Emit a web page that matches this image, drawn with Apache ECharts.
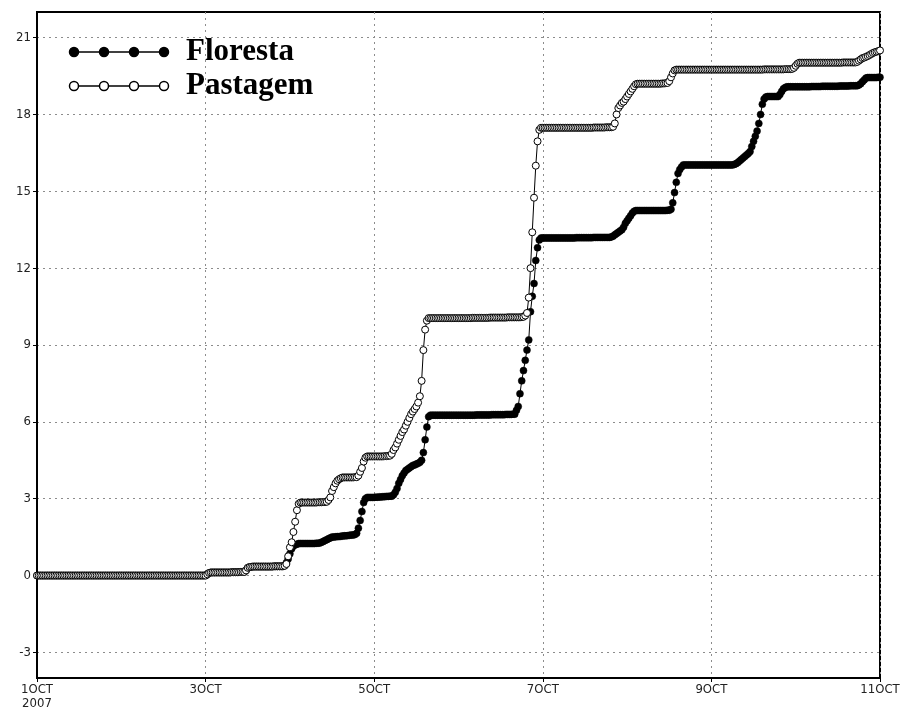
<!DOCTYPE html>
<html><head><meta charset="utf-8">
<script src="https://cdn.jsdelivr.net/npm/echarts@6/dist/echarts.min.js"></script>
<style>html,body{margin:0;padding:0;background:#fff}#c{width:908px;height:715px}</style>
</head><body><div id="c"></div>
<script>
const seriesNames = ['Floresta', 'Pastagem'];
const stepHours = 0.5; // half-hourly samples from 1 OCT 2007 00:00
const tickLabels = ['1OCT\n2007', '3OCT', '5OCT', '7OCT', '9OCT', '11OCT'];
const yTicks = [-3, 0, 3, 6, 9, 12, 15, 18, 21];

const floresta = [
// i0-96
0,0,0,0,0,0,0,0,0,0, 0,0,0,0,0,0,0,0,0,0, 0,0,0,0,0,0,0,0,0,0, 0,0,0,0,0,0,0,0,0,0,
0,0,0,0,0,0,0,0,0,0, 0,0,0,0,0,0,0,0,0,0, 0,0,0,0,0,0,0,0,0,0, 0,0,0,0,0,0,0,0,0,0,
0,0,0,0,0,0,0,0,0,0, 0,0,0,0,0,0,0,
// i97-118
0.05,0.1, 0.12,0.12,0.12,0.12,0.12,0.12,0.12,0.12,0.12,0.12, 0.12,0.12,0.13,0.13,0.13,0.13,0.13,0.14,0.14,0.14,
// i119-140
0.2,0.3, 0.33,0.34,0.35,0.35,0.35,0.35,0.35,0.35,0.35,0.35, 0.35,0.35,0.35,0.35,0.36,0.36,0.36,0.36,0.36,0.36,
// i141-148
0.4,0.5,0.65,0.85,1.05,1.15,1.2,1.22,
// i149-160
1.25,1.25,1.25,1.25,1.25,1.25,1.25,1.25,1.25,1.25, 1.26,1.26,
// i161-168
1.27,1.3,1.33,1.37,1.4,1.44,1.47,1.5,
// i169-180
1.5,1.51,1.52,1.52,1.53,1.54,1.55,1.55,1.56,1.57, 1.58,1.58,
// i181-187
1.6,1.65,1.85,2.15,2.5,2.85,3.0,
// i188-202
3.05,3.05,3.05,3.05,3.05,3.06,3.06,3.07,3.07,3.08, 3.08,3.09,3.09,3.1,3.1,
// i203-223
3.15,3.25,3.4,3.6,3.75,3.9,4.0,4.1,4.15,4.2, 4.25,4.3,4.32,4.35,4.38,4.42,4.5,4.8,5.3,5.8, 6.2,
// i224-272
6.26,6.26,6.26,6.26,6.26,6.26,6.26,6.26,6.26,6.26, 6.26,6.26,6.26,6.26,6.26,6.26,6.26,6.26,6.26,6.26,
6.26,6.26,6.26,6.26,6.26,6.26,6.27,6.27,6.27,6.27, 6.27,6.27,6.27,6.27,6.27,6.28,6.28,6.28,6.28,6.28,
6.28,6.28,6.28,6.29,6.29,6.29,6.29,6.3,6.3,
// i273-286
6.45,6.6,7.1,7.6,8.0,8.4,8.8,9.2,10.3,10.9, 11.4,12.3,12.8,13.1,
// i287-326
13.18,13.18,13.18,13.18,13.18,13.18,13.18,13.18,13.18,13.18, 13.18,13.18,13.18,13.18,13.18,13.18,13.18,13.18,13.18,13.18,
13.19,13.19,13.19,13.19,13.19,13.19,13.19,13.19,13.19,13.19, 13.2,13.2,13.2,13.2,13.2,13.2,13.2,13.2,13.2,13.2,
// i327-340
13.22,13.25,13.3,13.35,13.4,13.45,13.5,13.6,13.75,13.85, 13.95,14.05,14.15,14.22,
// i341-360
14.25,14.25,14.25,14.25,14.25,14.25,14.25,14.25,14.25,14.25, 14.25,14.25,14.25,14.25,14.25,14.25,14.25,14.25,14.26,14.26,
// i361-367
14.3,14.55,14.95,15.35,15.7,15.85,15.95,
// i368-396
16.03,16.03,16.03,16.03,16.03,16.03,16.03,16.03,16.03,16.03, 16.03,16.03,16.03,16.03,16.03,16.03,16.03,16.03,16.03,16.03,
16.03,16.03,16.03,16.03,16.03,16.03,16.03,16.03,16.03,
// i397-415
16.05,16.08,16.12,16.18,16.24,16.3,16.36,16.42,16.48,16.55, 16.75,16.95,17.15,17.35,17.65,18.0,18.4,18.6,18.68,
// i416-422
18.7,18.7,18.7,18.7,18.7,18.7,18.7,
// i423-426
18.78,18.9,19.0,19.05,
// i427-467
19.08,19.08,19.08,19.08,19.08,19.08,19.08,19.08,19.08,19.08, 19.08,19.08,19.08,19.08,19.09,19.09,19.09,19.09,19.09,19.09,
19.1,19.1,19.1,19.1,19.1,19.1,19.1,19.1,19.1,19.1, 19.11,19.11,19.11,19.11,19.11,19.11,19.12,19.12,19.12,19.12, 19.12,
// i468-472
19.15,19.2,19.28,19.35,19.42,
// i473-480
19.44,19.44,19.44,19.44,19.44,19.44,19.45,19.45
];

const pastagem = [
// i0-96
0,0,0,0,0,0,0,0,0,0, 0,0,0,0,0,0,0,0,0,0, 0,0,0,0,0,0,0,0,0,0, 0,0,0,0,0,0,0,0,0,0,
0,0,0,0,0,0,0,0,0,0, 0,0,0,0,0,0,0,0,0,0, 0,0,0,0,0,0,0,0,0,0, 0,0,0,0,0,0,0,0,0,0,
0,0,0,0,0,0,0,0,0,0, 0,0,0,0,0,0,0,
// i97-118
0.05,0.1, 0.12,0.12,0.12,0.12,0.12,0.12,0.12,0.12,0.12,0.12, 0.12,0.12,0.13,0.13,0.13,0.13,0.13,0.14,0.14,0.14,
// i119-140
0.2,0.3, 0.33,0.34,0.35,0.35,0.35,0.35,0.35,0.35,0.35,0.35, 0.35,0.35,0.35,0.35,0.36,0.36,0.36,0.36,0.36,0.36,
// i141-149
0.38,0.45,0.75,1.1,1.3,1.7,2.1,2.55,2.8,
// i150-165
2.85,2.85,2.85,2.85,2.85,2.85,2.85,2.85,2.85,2.85, 2.86,2.86,2.86,2.87,2.87,2.88,
// i166-173
2.95,3.05,3.3,3.45,3.6,3.7,3.76,3.8,
// i174-182
3.83,3.83,3.83,3.83,3.83,3.83,3.83,3.84,3.84,
// i183-187
3.9,4.05,4.2,4.45,4.6,
// i188-201
4.65,4.65,4.65,4.65,4.65,4.65,4.65,4.65,4.65,4.65, 4.66,4.66,4.67,4.68,
// i202-222
4.75,4.9,5.0,5.15,5.3,5.45,5.6,5.7,5.85,6.0, 6.15,6.3,6.4,6.5,6.6,6.75,7.0,7.6,8.8,9.6, 9.95,
// i223-276
10.05,10.05,10.05,10.05,10.05,10.05,10.05,10.05,10.05,10.05, 10.05,10.05,10.05,10.05,10.05,10.05,10.05,10.05,10.05,10.05,
10.05,10.05,10.05,10.05,10.05,10.06,10.06,10.06,10.06,10.06, 10.06,10.06,10.06,10.06,10.06,10.07,10.07,10.07,10.07,10.07,
10.07,10.07,10.07,10.07,10.07,10.08,10.08,10.08,10.08,10.08, 10.08,10.08,10.08,10.09,
// i277-286
10.1,10.15,10.25,10.85,12.0,13.4,14.75,16.0,16.95,17.4,
// i287-328
17.48,17.48,17.48,17.48,17.48,17.48,17.48,17.48,17.48,17.48, 17.48,17.48,17.48,17.48,17.48,17.48,17.48,17.48,17.48,17.48,
17.48,17.48,17.48,17.48,17.48,17.48,17.48,17.48,17.48,17.48, 17.49,17.49,17.49,17.49,17.49,17.49,17.49,17.5,17.5,17.5,
17.5,17.52,
// i329-341
17.65,18.0,18.25,18.35,18.45,18.5,18.6,18.7,18.8,18.9, 19.0,19.1,19.18,
// i342-359
19.2,19.2,19.2,19.2,19.2,19.2,19.2,19.2,19.2,19.2, 19.2,19.2,19.2,19.2,19.21,19.21,19.22,19.23,
// i360-363
19.3,19.45,19.6,19.72,
// i364-430
19.75,19.75,19.75,19.75,19.75,19.75,19.75,19.75,19.75,19.75, 19.75,19.75,19.75,19.75,19.75,19.75,19.75,19.75,19.75,19.75,
19.75,19.75,19.75,19.75,19.75,19.75,19.75,19.75,19.75,19.75, 19.75,19.75,19.75,19.75,19.75,19.75,19.75,19.75,19.75,19.75,
19.75,19.75,19.75,19.75,19.75,19.75,19.75,19.75,19.75,19.75, 19.76,19.76,19.76,19.76,19.76,19.76,19.76,19.76,19.76,19.76,
19.76,19.76,19.77,19.77,19.77,19.77,19.78,
// i431-433
19.82,19.9,19.98,
// i434-466
20.02,20.02,20.02,20.02,20.02,20.02,20.02,20.02,20.02,20.02, 20.02,20.02,20.02,20.02,20.02,20.02,20.02,20.02,20.02,20.02,
20.02,20.02,20.02,20.02,20.02,20.03,20.03,20.03,20.03,20.03, 20.03,20.03,20.03,
// i467-480
20.05,20.1,20.15,20.2,20.22,20.25,20.28,20.32,20.36,20.4, 20.43,20.45,20.47,20.5
];

const seriesValues = [floresta, pastagem];
const toPairs = arr => arr.map((v, i) => [i * stepHours, v]);

const axisFont = {
  fontFamily: '"Liberation Sans Narrow","DejaVu Sans Condensed","Liberation Sans",sans-serif',
  fontSize: 13, color: '#222'
};
const gridLine = { show: true, lineStyle: { color: '#8c8c8c', width: 1, type: [2, 4] } };

const legendGraphic = [];
seriesNames.forEach((name, k) => {
  const y = 52 + k * 34;
  const filled = k === 0;
  legendGraphic.push({ type: 'line', z: 100, shape: { x1: 74, y1: y, x2: 164, y2: y },
    style: { stroke: '#000', lineWidth: 1.5 } });
  [74, 104, 134, 164].forEach(x => legendGraphic.push({ type: 'circle', z: 101,
    shape: { cx: x, cy: y, r: 4.5 },
    style: { fill: filled ? '#000' : '#fff', stroke: '#000', lineWidth: 1.5 } }));
  legendGraphic.push({ type: 'text', z: 101, x: 186, y: y,
    style: { text: name, fill: '#000', font: 'bold 31px "Liberation Serif","Times New Roman",serif',
      textVerticalAlign: 'middle', textAlign: 'left' } });
});

const chart = echarts.init(document.getElementById('c'));
chart.setOption({
  animation: false,
  backgroundColor: '#fff',
  grid: { left: 37, right: 28, top: 12, bottom: 37, show: true, borderColor: '#000', borderWidth: 2, backgroundColor: '#fff' },
  xAxis: {
    type: 'value', min: 0, max: 240, interval: 48,
    axisLine: { show: true, onZero: false, lineStyle: { color: '#000', width: 2 } },
    axisTick: { show: true, length: 4, lineStyle: { color: '#000' } },
    axisLabel: { ...axisFont, margin: 5, lineHeight: 14, showMinLabel: true, showMaxLabel: true,
      formatter: v => tickLabels[Math.round(v / 48)] || '' },
    splitLine: gridLine
  },
  yAxis: {
    type: 'value', min: -4, max: 22,
    axisLine: { show: true, onZero: false, lineStyle: { color: '#000', width: 2 } },
    axisTick: { show: true, length: 4, customValues: yTicks, lineStyle: { color: '#000' } },
    axisLabel: { ...axisFont, margin: 6, customValues: yTicks },
    splitLine: gridLine
  },
  series: seriesValues.map((vals, k) => ({
    name: seriesNames[k],
    type: 'line',
    data: toPairs(vals),
    showAllSymbol: true,
    symbol: 'circle',
    symbolSize: 7,
    lineStyle: { color: '#000', width: 1 },
    itemStyle: k === 0 ? { color: '#000', borderColor: '#000', borderWidth: 0.5 }
                       : { color: '#fff', borderColor: '#000', borderWidth: 1 },
    z: 2 + k
  })),
  graphic: { elements: legendGraphic }
});
</script>
</body></html>
